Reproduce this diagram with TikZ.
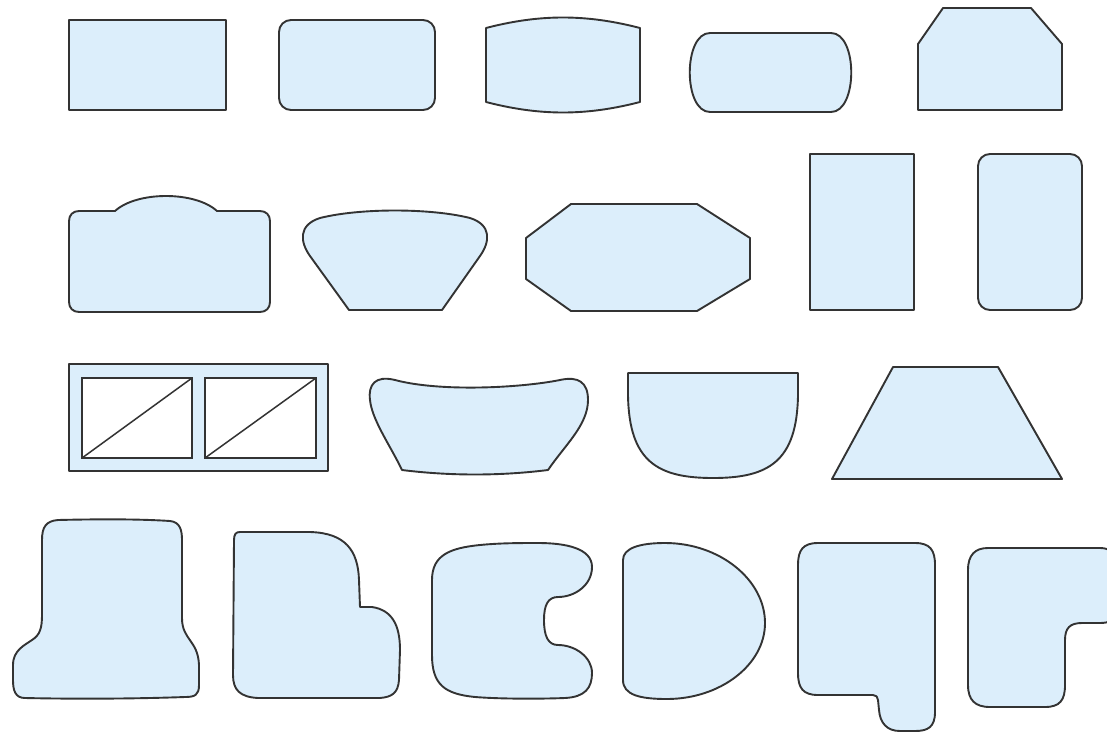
\documentclass[tikz,border=0pt]{standalone}
\definecolor{fillc}{HTML}{DCEEFB}
\definecolor{linec}{HTML}{333333}
\tikzset{
  shp/.style={draw=linec, fill=fillc, line width=1.9pt, line join=round},
  pane/.style={draw=linec, fill=white, line width=1.9pt},
  diag/.style={draw=linec, line width=1.5pt}
}
\begin{document}
\begin{tikzpicture}[x=1pt,y=-1pt]
\useasboundingbox (0,0) rectangle (1107,733);
\clip (0,0) rectangle (1107,733);
% ---- Row 1 ----
\draw[shp] (69,20) rectangle (226,110);
\draw[shp, rounded corners=12pt] (279,20) rectangle (435,110);
\draw[shp] (486,28) .. controls (540,14) and (586,14) .. (640,28) -- (640,102)
  .. controls (586,116) and (540,116) .. (486,102) -- cycle;
\draw[shp] (710,33) -- (831,33) .. controls (858,33) and (858,112) .. (831,112)
  -- (710,112) .. controls (683,112) and (683,33) .. (710,33) -- cycle;
\draw[shp] (918,110) -- (918,44) -- (943,8) -- (1031,8) -- (1062,44) -- (1062,110) -- cycle;
% ---- Row 2 ----
\draw[shp] (115,211) -- (79,211) .. controls (73,211) and (69,215) .. (69,221) -- (69,302)
  .. controls (69,308) and (73,312) .. (79,312) -- (260,312)
  .. controls (266,312) and (270,308) .. (270,302) -- (270,221)
  .. controls (270,215) and (266,211) .. (260,211) -- (217,211)
  .. controls (195,191) and (137,191) .. (115,211) -- cycle;
\draw[shp] (349,310) -- (442,310) -- (480,256) .. controls (490,242) and (492,225) .. (470,218)
  .. controls (430,208) and (360,208) .. (320,218)
  .. controls (298,225) and (300,242) .. (310,256) -- cycle;
\draw[shp] (571,204) -- (697,204) -- (750,238) -- (750,279) -- (697,311) -- (571,311)
  -- (526,279) -- (526,238) -- cycle;
\draw[shp] (810,154) rectangle (914,310);
\draw[shp, rounded corners=12pt] (978,154) rectangle (1082,310);
% ---- Row 3 ----
\draw[shp] (69,364) rectangle (328,471);
\draw[pane] (82,378) rectangle (192,458);
\draw[diag] (82,458) -- (192,378);
\draw[pane] (205,378) rectangle (316,458);
\draw[diag] (205,458) -- (316,378);
\draw[shp] (402,470) .. controls (450,476) and (500,476) .. (548,470)
  .. controls (565,445) and (588,425) .. (588,400)
  .. controls (588,382) and (578,376) .. (560,380)
  .. controls (520,388) and (440,392) .. (395,380)
  .. controls (375,375) and (368,385) .. (370,400)
  .. controls (372,420) and (390,445) .. (402,470) -- cycle;
\draw[shp] (628,373) -- (798,373) -- (798,395) .. controls (797,462) and (768,478) .. (713,478)
  .. controls (658,478) and (629,462) .. (628,395) -- cycle;
\draw[shp] (893,367) -- (998,367) -- (1062,479) -- (832,479) -- cycle;
% ---- Row 4 ----
\draw[shp] (58,520) .. controls (100,519) and (140,519) .. (170,521)
  .. controls (180,522) and (182,530) .. (182,540) -- (182,618)
  .. controls (182,640) and (198,640) .. (199,665) -- (199,685)
  .. controls (199,695) and (195,697) .. (185,697)
  .. controls (130,699) and (70,699) .. (25,698)
  .. controls (15,698) and (13,690) .. (13,680) -- (13,665)
  .. controls (13,650) and (25,645) .. (32,640)
  .. controls (40,635) and (42,628) .. (42,615) -- (42,540)
  .. controls (42,527) and (46,521) .. (58,520) -- cycle;
\draw[shp] (240,532) -- (310,532) .. controls (345,533) and (358,550) .. (359,580)
  -- (360,607) -- (372,607) .. controls (392,610) and (400,625) .. (400,650)
  -- (399,680) .. controls (398,693) and (392,697) .. (380,698) -- (258,698)
  .. controls (240,697) and (233,690) .. (233,675) -- (234,540)
  .. controls (234,534) and (236,532) .. (240,532) -- cycle;
\draw[shp] (538,543) .. controls (565,543) and (592,548) .. (592,567)
  .. controls (592,585) and (575,597) .. (558,597)
  .. controls (548,597) and (544,605) .. (544,620)
  .. controls (544,636) and (548,645) .. (558,645)
  .. controls (575,645) and (592,657) .. (592,673)
  .. controls (592,688) and (585,697) .. (565,698)
  .. controls (540,699) and (500,699) .. (475,697)
  .. controls (445,694) and (432,685) .. (432,655) -- (432,580)
  .. controls (432,555) and (450,548) .. (480,545)
  .. controls (500,543) and (520,543) .. (538,543) -- cycle;
\draw[shp] (623,680) -- (623,560) .. controls (623,548) and (640,543) .. (665,543)
  .. controls (720,543) and (765,580) .. (765,623)
  .. controls (765,665) and (720,699) .. (667,699)
  .. controls (640,699) and (623,695) .. (623,680) -- cycle;
\draw[shp] (818,543) -- (915,543) .. controls (930,543) and (935,550) .. (935,565)
  -- (935,712) .. controls (935,727) and (928,731) .. (915,731) -- (900,731)
  .. controls (887,731) and (880,723) .. (879,710) -- (878,700)
  .. controls (878,697) and (876,695) .. (873,695) -- (818,695)
  .. controls (803,695) and (798,688) .. (798,673) -- (798,565)
  .. controls (798,550) and (803,543) .. (818,543) -- cycle;
\draw[shp] (988,548) -- (1100,548) .. controls (1110,548) and (1115,553) .. (1115,563)
  -- (1115,610) .. controls (1115,620) and (1110,623) .. (1100,623) -- (1082,623)
  .. controls (1070,623) and (1065,628) .. (1065,640) -- (1065,685)
  .. controls (1065,700) and (1060,707) .. (1045,707) -- (990,707)
  .. controls (975,707) and (968,700) .. (968,685) -- (968,570)
  .. controls (968,555) and (975,548) .. (988,548) -- cycle;
\end{tikzpicture}
\end{document}
